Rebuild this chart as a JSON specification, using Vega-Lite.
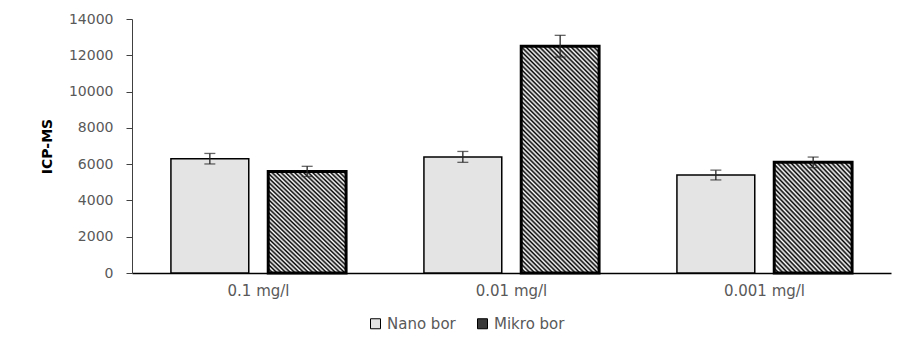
{
  "$schema": "https://vega.github.io/schema/vega-lite/v6.json",
  "width": 759,
  "height": 254,
  "autosize": {"type": "none"},
  "padding": {"left": 132, "top": 19, "right": 13, "bottom": 72},
  "background": "white",
  "config": {
    "view": {"stroke": null},
    "font": "DejaVu Sans",
    "axisY": {"tickCount": 7, "format": "d", "labelOverlap": false, "grid": false, "domainColor": "#404040", "tickColor": "#404040", "tickSize": 6, "labelColor": "#595959", "labelFont": "DejaVu Sans", "labelFontSize": 14, "labelPadding": 13, "titleFont": "DejaVu Sans", "titleFontWeight": "bold", "titleFontSize": 14, "titleColor": "#000", "titlePadding": 14}
  },
  "data": {
    "values": [
      {"conc": "0.1 mg/l", "type": "Nano bor", "value": 6300, "lo": 6010, "hi": 6590},
      {"conc": "0.1 mg/l", "type": "Mikro bor", "value": 5600, "lo": 5320, "hi": 5880},
      {"conc": "0.01 mg/l", "type": "Nano bor", "value": 6400, "lo": 6100, "hi": 6700},
      {"conc": "0.01 mg/l", "type": "Mikro bor", "value": 12500, "lo": 11900, "hi": 13100},
      {"conc": "0.001 mg/l", "type": "Nano bor", "value": 5400, "lo": 5130, "hi": 5670},
      {"conc": "0.001 mg/l", "type": "Mikro bor", "value": 6100, "lo": 5810, "hi": 6390}
    ]
  },
  "encoding": {
    "x": {
      "field": "conc", "type": "nominal", "title": null,
      "scale": {"domain": ["0.1 mg/l", "0.01 mg/l", "0.001 mg/l"], "paddingInner": 0, "paddingOuter": 0},
      "axis": {"labelAngle": 0, "ticks": false, "domainColor": "#000", "domainWidth": 1.5, "labelColor": "#595959", "labelFont": "DejaVu Sans", "labelFontSize": 15, "labelPadding": 10}
    },
    "xOffset": {
      "field": "type", "type": "nominal",
      "scale": {"domain": ["Nano bor", "Mikro bor"], "paddingInner": 0.2, "paddingOuter": 0.4}
    },
    "y": {
      "field": "value", "type": "quantitative", "title": "ICP-MS",
      "scale": {"domain": [0, 14000], "nice": false}
    }
  },
  "layer": [
    {
      "mark": {"type": "bar", "stroke": "#000", "strokeWidth": 1.5},
      "encoding": {
        "color": {
          "field": "type", "type": "nominal",
          "scale": {"domain": ["Nano bor", "Mikro bor"], "range": ["#e4e4e4", "#3a3a3a"]},
          "legend": {"orient": "none", "legendX": 236, "legendY": 297, "direction": "horizontal", "title": null, "symbolType": "square", "symbolSize": 100, "symbolStrokeColor": "#000", "symbolStrokeWidth": 1, "labelFont": "DejaVu Sans", "labelFontSize": 15, "labelColor": "#595959", "columnPadding": 19, "labelOffset": 4}
        }
      }
    },
    {
      "transform": [{"filter": "datum.type === 'Mikro bor' && datum.conc === '0.01 mg/l'"}],
      "mark": {"type": "bar", "stroke": "#000", "strokeWidth": 3,
        "fill": {"gradient": "linear", "x1": 0, "y1": 1, "x2": 0.6137, "y2": -0.7844, "stops": [
{"offset":0,"color":"#000"},{"offset":0.005,"color":"#fff"},{"offset":0.01,"color":"#000"},{"offset":0.015,"color":"#fff"},{"offset":0.02,"color":"#000"},{"offset":0.025,"color":"#fff"},{"offset":0.03,"color":"#000"},{"offset":0.035,"color":"#fff"},{"offset":0.04,"color":"#000"},{"offset":0.045,"color":"#fff"},
{"offset":0.05,"color":"#000"},{"offset":0.055,"color":"#fff"},{"offset":0.06,"color":"#000"},{"offset":0.065,"color":"#fff"},{"offset":0.07,"color":"#000"},{"offset":0.075,"color":"#fff"},{"offset":0.08,"color":"#000"},{"offset":0.085,"color":"#fff"},{"offset":0.09,"color":"#000"},{"offset":0.095,"color":"#fff"},
{"offset":0.1,"color":"#000"},{"offset":0.105,"color":"#fff"},{"offset":0.11,"color":"#000"},{"offset":0.115,"color":"#fff"},{"offset":0.12,"color":"#000"},{"offset":0.125,"color":"#fff"},{"offset":0.13,"color":"#000"},{"offset":0.135,"color":"#fff"},{"offset":0.14,"color":"#000"},{"offset":0.145,"color":"#fff"},
{"offset":0.15,"color":"#000"},{"offset":0.155,"color":"#fff"},{"offset":0.16,"color":"#000"},{"offset":0.165,"color":"#fff"},{"offset":0.17,"color":"#000"},{"offset":0.175,"color":"#fff"},{"offset":0.18,"color":"#000"},{"offset":0.185,"color":"#fff"},{"offset":0.19,"color":"#000"},{"offset":0.195,"color":"#fff"},
{"offset":0.2,"color":"#000"},{"offset":0.205,"color":"#fff"},{"offset":0.21,"color":"#000"},{"offset":0.215,"color":"#fff"},{"offset":0.22,"color":"#000"},{"offset":0.225,"color":"#fff"},{"offset":0.23,"color":"#000"},{"offset":0.235,"color":"#fff"},{"offset":0.24,"color":"#000"},{"offset":0.245,"color":"#fff"},
{"offset":0.25,"color":"#000"},{"offset":0.255,"color":"#fff"},{"offset":0.26,"color":"#000"},{"offset":0.265,"color":"#fff"},{"offset":0.27,"color":"#000"},{"offset":0.275,"color":"#fff"},{"offset":0.28,"color":"#000"},{"offset":0.285,"color":"#fff"},{"offset":0.29,"color":"#000"},{"offset":0.295,"color":"#fff"},
{"offset":0.3,"color":"#000"},{"offset":0.305,"color":"#fff"},{"offset":0.31,"color":"#000"},{"offset":0.315,"color":"#fff"},{"offset":0.32,"color":"#000"},{"offset":0.325,"color":"#fff"},{"offset":0.33,"color":"#000"},{"offset":0.335,"color":"#fff"},{"offset":0.34,"color":"#000"},{"offset":0.345,"color":"#fff"},
{"offset":0.35,"color":"#000"},{"offset":0.355,"color":"#fff"},{"offset":0.36,"color":"#000"},{"offset":0.365,"color":"#fff"},{"offset":0.37,"color":"#000"},{"offset":0.375,"color":"#fff"},{"offset":0.38,"color":"#000"},{"offset":0.385,"color":"#fff"},{"offset":0.39,"color":"#000"},{"offset":0.395,"color":"#fff"},
{"offset":0.4,"color":"#000"},{"offset":0.405,"color":"#fff"},{"offset":0.41,"color":"#000"},{"offset":0.415,"color":"#fff"},{"offset":0.42,"color":"#000"},{"offset":0.425,"color":"#fff"},{"offset":0.43,"color":"#000"},{"offset":0.435,"color":"#fff"},{"offset":0.44,"color":"#000"},{"offset":0.445,"color":"#fff"},
{"offset":0.45,"color":"#000"},{"offset":0.455,"color":"#fff"},{"offset":0.46,"color":"#000"},{"offset":0.465,"color":"#fff"},{"offset":0.47,"color":"#000"},{"offset":0.475,"color":"#fff"},{"offset":0.48,"color":"#000"},{"offset":0.485,"color":"#fff"},{"offset":0.49,"color":"#000"},{"offset":0.495,"color":"#fff"},
{"offset":0.5,"color":"#000"},{"offset":0.505,"color":"#fff"},{"offset":0.51,"color":"#000"},{"offset":0.515,"color":"#fff"},{"offset":0.52,"color":"#000"},{"offset":0.525,"color":"#fff"},{"offset":0.53,"color":"#000"},{"offset":0.535,"color":"#fff"},{"offset":0.54,"color":"#000"},{"offset":0.545,"color":"#fff"},
{"offset":0.55,"color":"#000"},{"offset":0.555,"color":"#fff"},{"offset":0.56,"color":"#000"},{"offset":0.565,"color":"#fff"},{"offset":0.57,"color":"#000"},{"offset":0.575,"color":"#fff"},{"offset":0.58,"color":"#000"},{"offset":0.585,"color":"#fff"},{"offset":0.59,"color":"#000"},{"offset":0.595,"color":"#fff"},
{"offset":0.6,"color":"#000"},{"offset":0.605,"color":"#fff"},{"offset":0.61,"color":"#000"},{"offset":0.615,"color":"#fff"},{"offset":0.62,"color":"#000"},{"offset":0.625,"color":"#fff"},{"offset":0.63,"color":"#000"},{"offset":0.635,"color":"#fff"},{"offset":0.64,"color":"#000"},{"offset":0.645,"color":"#fff"},
{"offset":0.65,"color":"#000"},{"offset":0.655,"color":"#fff"},{"offset":0.66,"color":"#000"},{"offset":0.665,"color":"#fff"},{"offset":0.67,"color":"#000"},{"offset":0.675,"color":"#fff"},{"offset":0.68,"color":"#000"},{"offset":0.685,"color":"#fff"},{"offset":0.69,"color":"#000"},{"offset":0.695,"color":"#fff"},
{"offset":0.7,"color":"#000"},{"offset":0.705,"color":"#fff"},{"offset":0.71,"color":"#000"},{"offset":0.715,"color":"#fff"},{"offset":0.72,"color":"#000"},{"offset":0.725,"color":"#fff"},{"offset":0.73,"color":"#000"},{"offset":0.735,"color":"#fff"},{"offset":0.74,"color":"#000"},{"offset":0.745,"color":"#fff"},
{"offset":0.75,"color":"#000"},{"offset":0.755,"color":"#fff"},{"offset":0.76,"color":"#000"},{"offset":0.765,"color":"#fff"},{"offset":0.77,"color":"#000"},{"offset":0.775,"color":"#fff"},{"offset":0.78,"color":"#000"},{"offset":0.785,"color":"#fff"},{"offset":0.79,"color":"#000"},{"offset":0.795,"color":"#fff"},
{"offset":0.8,"color":"#000"},{"offset":0.805,"color":"#fff"},{"offset":0.81,"color":"#000"},{"offset":0.815,"color":"#fff"},{"offset":0.82,"color":"#000"},{"offset":0.825,"color":"#fff"},{"offset":0.83,"color":"#000"},{"offset":0.835,"color":"#fff"},{"offset":0.84,"color":"#000"},{"offset":0.845,"color":"#fff"},
{"offset":0.85,"color":"#000"},{"offset":0.855,"color":"#fff"},{"offset":0.86,"color":"#000"},{"offset":0.865,"color":"#fff"},{"offset":0.87,"color":"#000"},{"offset":0.875,"color":"#fff"},{"offset":0.88,"color":"#000"},{"offset":0.885,"color":"#fff"},{"offset":0.89,"color":"#000"},{"offset":0.895,"color":"#fff"},
{"offset":0.9,"color":"#000"},{"offset":0.905,"color":"#fff"},{"offset":0.91,"color":"#000"},{"offset":0.915,"color":"#fff"},{"offset":0.92,"color":"#000"},{"offset":0.925,"color":"#fff"},{"offset":0.93,"color":"#000"},{"offset":0.935,"color":"#fff"},{"offset":0.94,"color":"#000"},{"offset":0.945,"color":"#fff"},
{"offset":0.95,"color":"#000"},{"offset":0.955,"color":"#fff"},{"offset":0.96,"color":"#000"},{"offset":0.965,"color":"#fff"},{"offset":0.97,"color":"#000"},{"offset":0.975,"color":"#fff"},{"offset":0.98,"color":"#000"},{"offset":0.985,"color":"#fff"},{"offset":0.99,"color":"#000"},{"offset":0.995,"color":"#fff"},
{"offset":1,"color":"#000"}
        ]}
      }
    },
    {
      "transform": [{"filter": "datum.type === 'Mikro bor' && datum.conc !== '0.01 mg/l'"}],
      "mark": {"type": "bar", "stroke": "#000", "strokeWidth": 3,
        "fill": {"gradient": "linear", "x1": 0, "y1": 1, "x2": 2.038, "y2": -1.7697, "stops": [
{"offset":0,"color":"#000"},{"offset":0.005,"color":"#fff"},{"offset":0.01,"color":"#000"},{"offset":0.015,"color":"#fff"},{"offset":0.02,"color":"#000"},{"offset":0.025,"color":"#fff"},{"offset":0.03,"color":"#000"},{"offset":0.035,"color":"#fff"},{"offset":0.04,"color":"#000"},{"offset":0.045,"color":"#fff"},
{"offset":0.05,"color":"#000"},{"offset":0.055,"color":"#fff"},{"offset":0.06,"color":"#000"},{"offset":0.065,"color":"#fff"},{"offset":0.07,"color":"#000"},{"offset":0.075,"color":"#fff"},{"offset":0.08,"color":"#000"},{"offset":0.085,"color":"#fff"},{"offset":0.09,"color":"#000"},{"offset":0.095,"color":"#fff"},
{"offset":0.1,"color":"#000"},{"offset":0.105,"color":"#fff"},{"offset":0.11,"color":"#000"},{"offset":0.115,"color":"#fff"},{"offset":0.12,"color":"#000"},{"offset":0.125,"color":"#fff"},{"offset":0.13,"color":"#000"},{"offset":0.135,"color":"#fff"},{"offset":0.14,"color":"#000"},{"offset":0.145,"color":"#fff"},
{"offset":0.15,"color":"#000"},{"offset":0.155,"color":"#fff"},{"offset":0.16,"color":"#000"},{"offset":0.165,"color":"#fff"},{"offset":0.17,"color":"#000"},{"offset":0.175,"color":"#fff"},{"offset":0.18,"color":"#000"},{"offset":0.185,"color":"#fff"},{"offset":0.19,"color":"#000"},{"offset":0.195,"color":"#fff"},
{"offset":0.2,"color":"#000"},{"offset":0.205,"color":"#fff"},{"offset":0.21,"color":"#000"},{"offset":0.215,"color":"#fff"},{"offset":0.22,"color":"#000"},{"offset":0.225,"color":"#fff"},{"offset":0.23,"color":"#000"},{"offset":0.235,"color":"#fff"},{"offset":0.24,"color":"#000"},{"offset":0.245,"color":"#fff"},
{"offset":0.25,"color":"#000"},{"offset":0.255,"color":"#fff"},{"offset":0.26,"color":"#000"},{"offset":0.265,"color":"#fff"},{"offset":0.27,"color":"#000"},{"offset":0.275,"color":"#fff"},{"offset":0.28,"color":"#000"},{"offset":0.285,"color":"#fff"},{"offset":0.29,"color":"#000"},{"offset":0.295,"color":"#fff"},
{"offset":0.3,"color":"#000"},{"offset":0.305,"color":"#fff"},{"offset":0.31,"color":"#000"},{"offset":0.315,"color":"#fff"},{"offset":0.32,"color":"#000"},{"offset":0.325,"color":"#fff"},{"offset":0.33,"color":"#000"},{"offset":0.335,"color":"#fff"},{"offset":0.34,"color":"#000"},{"offset":0.345,"color":"#fff"},
{"offset":0.35,"color":"#000"},{"offset":0.355,"color":"#fff"},{"offset":0.36,"color":"#000"},{"offset":0.365,"color":"#fff"},{"offset":0.37,"color":"#000"},{"offset":0.375,"color":"#fff"},{"offset":0.38,"color":"#000"},{"offset":0.385,"color":"#fff"},{"offset":0.39,"color":"#000"},{"offset":0.395,"color":"#fff"},
{"offset":0.4,"color":"#000"},{"offset":0.405,"color":"#fff"},{"offset":0.41,"color":"#000"},{"offset":0.415,"color":"#fff"},{"offset":0.42,"color":"#000"},{"offset":0.425,"color":"#fff"},{"offset":0.43,"color":"#000"},{"offset":0.435,"color":"#fff"},{"offset":0.44,"color":"#000"},{"offset":0.445,"color":"#fff"},
{"offset":0.45,"color":"#000"},{"offset":0.455,"color":"#fff"},{"offset":0.46,"color":"#000"},{"offset":0.465,"color":"#fff"},{"offset":0.47,"color":"#000"},{"offset":0.475,"color":"#fff"},{"offset":0.48,"color":"#000"},{"offset":0.485,"color":"#fff"},{"offset":0.49,"color":"#000"},{"offset":0.495,"color":"#fff"},
{"offset":0.5,"color":"#000"},{"offset":0.505,"color":"#fff"},{"offset":0.51,"color":"#000"},{"offset":0.515,"color":"#fff"},{"offset":0.52,"color":"#000"},{"offset":0.525,"color":"#fff"},{"offset":0.53,"color":"#000"},{"offset":0.535,"color":"#fff"},{"offset":0.54,"color":"#000"},{"offset":0.545,"color":"#fff"},
{"offset":0.55,"color":"#000"},{"offset":0.555,"color":"#fff"},{"offset":0.56,"color":"#000"},{"offset":0.565,"color":"#fff"},{"offset":0.57,"color":"#000"},{"offset":0.575,"color":"#fff"},{"offset":0.58,"color":"#000"},{"offset":0.585,"color":"#fff"},{"offset":0.59,"color":"#000"},{"offset":0.595,"color":"#fff"},
{"offset":0.6,"color":"#000"},{"offset":0.605,"color":"#fff"},{"offset":0.61,"color":"#000"},{"offset":0.615,"color":"#fff"},{"offset":0.62,"color":"#000"},{"offset":0.625,"color":"#fff"},{"offset":0.63,"color":"#000"},{"offset":0.635,"color":"#fff"},{"offset":0.64,"color":"#000"},{"offset":0.645,"color":"#fff"},
{"offset":0.65,"color":"#000"},{"offset":0.655,"color":"#fff"},{"offset":0.66,"color":"#000"},{"offset":0.665,"color":"#fff"},{"offset":0.67,"color":"#000"},{"offset":0.675,"color":"#fff"},{"offset":0.68,"color":"#000"},{"offset":0.685,"color":"#fff"},{"offset":0.69,"color":"#000"},{"offset":0.695,"color":"#fff"},
{"offset":0.7,"color":"#000"},{"offset":0.705,"color":"#fff"},{"offset":0.71,"color":"#000"},{"offset":0.715,"color":"#fff"},{"offset":0.72,"color":"#000"},{"offset":0.725,"color":"#fff"},{"offset":0.73,"color":"#000"},{"offset":0.735,"color":"#fff"},{"offset":0.74,"color":"#000"},{"offset":0.745,"color":"#fff"},
{"offset":0.75,"color":"#000"},{"offset":0.755,"color":"#fff"},{"offset":0.76,"color":"#000"},{"offset":0.765,"color":"#fff"},{"offset":0.77,"color":"#000"},{"offset":0.775,"color":"#fff"},{"offset":0.78,"color":"#000"},{"offset":0.785,"color":"#fff"},{"offset":0.79,"color":"#000"},{"offset":0.795,"color":"#fff"},
{"offset":0.8,"color":"#000"},{"offset":0.805,"color":"#fff"},{"offset":0.81,"color":"#000"},{"offset":0.815,"color":"#fff"},{"offset":0.82,"color":"#000"},{"offset":0.825,"color":"#fff"},{"offset":0.83,"color":"#000"},{"offset":0.835,"color":"#fff"},{"offset":0.84,"color":"#000"},{"offset":0.845,"color":"#fff"},
{"offset":0.85,"color":"#000"},{"offset":0.855,"color":"#fff"},{"offset":0.86,"color":"#000"},{"offset":0.865,"color":"#fff"},{"offset":0.87,"color":"#000"},{"offset":0.875,"color":"#fff"},{"offset":0.88,"color":"#000"},{"offset":0.885,"color":"#fff"},{"offset":0.89,"color":"#000"},{"offset":0.895,"color":"#fff"},
{"offset":0.9,"color":"#000"},{"offset":0.905,"color":"#fff"},{"offset":0.91,"color":"#000"},{"offset":0.915,"color":"#fff"},{"offset":0.92,"color":"#000"},{"offset":0.925,"color":"#fff"},{"offset":0.93,"color":"#000"},{"offset":0.935,"color":"#fff"},{"offset":0.94,"color":"#000"},{"offset":0.945,"color":"#fff"},
{"offset":0.95,"color":"#000"},{"offset":0.955,"color":"#fff"},{"offset":0.96,"color":"#000"},{"offset":0.965,"color":"#fff"},{"offset":0.97,"color":"#000"},{"offset":0.975,"color":"#fff"},{"offset":0.98,"color":"#000"},{"offset":0.985,"color":"#fff"},{"offset":0.99,"color":"#000"},{"offset":0.995,"color":"#fff"},
{"offset":1,"color":"#000"}
        ]}
      }
    },
    {
      "mark": {"type": "rule", "color": "#262626", "strokeWidth": 1.3},
      "encoding": {
        "y": {"field": "lo", "type": "quantitative", "title": "ICP-MS"},
        "y2": {"field": "hi"}
      }
    },
    {
      "mark": {"type": "tick", "color": "#262626", "thickness": 1.3, "size": 11},
      "encoding": {"y": {"field": "hi", "type": "quantitative", "title": "ICP-MS"}}
    },
    {
      "mark": {"type": "tick", "color": "#262626", "thickness": 1.3, "size": 11},
      "encoding": {"y": {"field": "lo", "type": "quantitative", "title": "ICP-MS"}}
    }
  ]
}
